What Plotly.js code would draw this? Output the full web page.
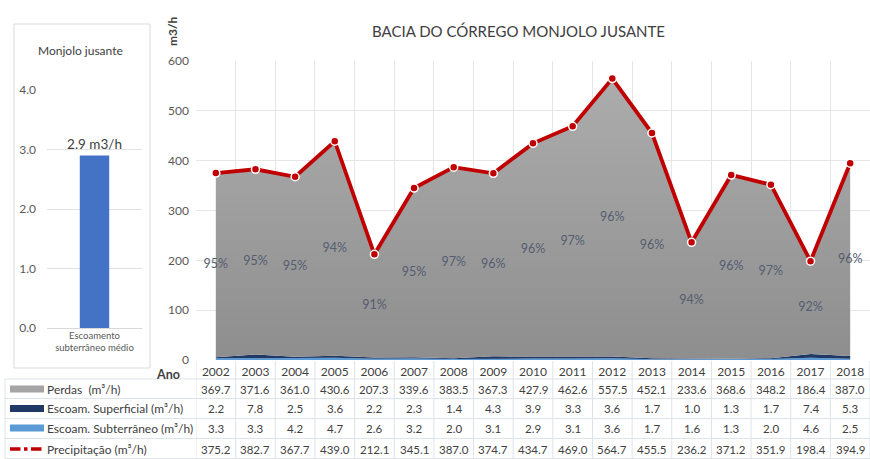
<!DOCTYPE html>
<html>
<head>
<meta charset="utf-8">
<script src="https://cdn.plot.ly/plotly-3.0.1.min.js"></script>
<style>
  body { margin: 0; background: #fff; }
  #grafico { width: 870px; height: 459px; }
</style>
</head>
<body>
<div id="grafico"></div>
<script>
const anos = ['2002', '2003', '2004', '2005', '2006', '2007', '2008', '2009', '2010',
  '2011', '2012', '2013', '2014', '2015', '2016', '2017', '2018'];
const perdas = [369.7, 371.6, 361.0, 430.6, 207.3, 339.6, 383.5, 367.3, 427.9,
  462.6, 557.5, 452.1, 233.6, 368.6, 348.2, 186.4, 387.0];
const superficial = [2.2, 7.8, 2.5, 3.6, 2.2, 2.3, 1.4, 4.3, 3.9, 3.3, 3.6, 1.7, 1.0, 1.3, 1.7, 7.4, 5.3];
const subterraneo = [3.3, 3.3, 4.2, 4.7, 2.6, 3.2, 2.0, 3.1, 2.9, 3.1, 3.6, 1.7, 1.6, 1.3, 2.0, 4.6, 2.5];
const precipitacao = [375.2, 382.7, 367.7, 439.0, 212.1, 345.1, 387.0, 374.7, 434.7,
  469.0, 564.7, 455.5, 236.2, 371.2, 351.9, 198.4, 394.9];
const percentuais = ['95%', '95%', '95%', '94%', '91%', '95%', '97%', '96%', '96%',
  '97%', '96%', '96%', '94%', '96%', '97%', '92%', '96%'];

const mediaCategoria = ['Escoamento<br>subterrâneo médio'];
const mediaValor = [2.9];
const mediaTexto = ['2.9 m3/h'];

const W = 870, H = 459;
const px = x => x / W;
const py = y => 1 - y / H;

const fonte = 'Lato, "Liberation Sans", sans-serif';
const cinzaTexto = '#404040';

// posição dos rótulos de % no meio da área de perdas
const meioPerdas = perdas.map((p, i) => subterraneo[i] + superficial[i] + p / 2);

const traces = [
  {
    x: anos, y: subterraneo, type: 'scatter', mode: 'lines', stackgroup: 'a',
    line: { width: 0, color: '#5b9bd5' }, fillcolor: '#5b9bd5',
    xaxis: 'x', yaxis: 'y', hoverinfo: 'skip'
  },
  {
    x: anos, y: superficial, type: 'scatter', mode: 'lines', stackgroup: 'a',
    line: { width: 0, color: '#203864' }, fillcolor: '#203864',
    xaxis: 'x', yaxis: 'y', hoverinfo: 'skip'
  },
  {
    x: anos, y: perdas, type: 'scatter', mode: 'lines', stackgroup: 'a',
    line: { width: 0, color: '#a0a0a0' },
    fillgradient: { type: 'vertical', start: 0, stop: 560, colorscale: [[0, '#8e8e8e'], [1, '#acacac']] },
    xaxis: 'x', yaxis: 'y', hoverinfo: 'skip'
  },
  {
    x: anos, y: precipitacao, type: 'scatter', mode: 'lines+markers',
    line: { color: '#c00000', width: 3.8 },
    marker: { color: '#c00000', size: 8, line: { color: '#ffffff', width: 1.5 } },
    xaxis: 'x', yaxis: 'y', hoverinfo: 'skip'
  },
  {
    x: anos, y: meioPerdas, type: 'scatter', mode: 'text', text: percentuais,
    textfont: { family: fonte, size: 12.5, color: '#555d70' },
    xaxis: 'x', yaxis: 'y', hoverinfo: 'skip'
  },
  {
    x: mediaCategoria, y: mediaValor, type: 'bar', width: 0.31,
    marker: { color: '#4472c4' },
    text: mediaTexto, textposition: 'outside', cliponaxis: false, constraintext: 'none',
    textfont: { family: fonte, size: 13.5, color: cinzaTexto },
    xaxis: 'x2', yaxis: 'y2', hoverinfo: 'skip'
  }
];

const anot = (text, x, y, size, extra) => Object.assign({
  text: text, xref: 'paper', yref: 'paper', x: px(x), y: py(y),
  xanchor: 'center', yanchor: 'middle', showarrow: false,
  font: { family: fonte, size: size, color: cinzaTexto }
}, extra || {});

const annotations = [
  anot('BACIA DO CÓRREGO MONJOLO JUSANTE', 518, 31, 15),
  anot('<b>m3/h</b>', 172, 31, 12, { textangle: -90 }),
  anot('<b>Ano</b>', 168, 374, 12.5),
  anot('Monjolo jusante', 80, 50, 12)
];

const shapes = [
  // moldura do painel esquerdo
  {
    type: 'rect', xref: 'paper', yref: 'paper',
    x0: px(14), x1: px(150), y0: py(368), y1: py(24),
    line: { color: '#d9d9d9', width: 1 }
  }
];

// tabela de dados
const linhas = [
  { nome: 'Perdas  (m³/h)', valores: perdas, cy: 389, cor: '#a5a5a5', tipo: 'barra' },
  { nome: 'Escoam. Superficial (m³/h)', valores: superficial, cy: 408.5, cor: '#203864', tipo: 'barra' },
  { nome: 'Escoam. Subterrâneo (m³/h)', valores: subterraneo, cy: 428, cor: '#5b9bd5', tipo: 'barra' },
  { nome: 'Precipitação (m³/h)', valores: precipitacao, cy: 449, cor: '#c00000', tipo: 'linha' }
];
const corGrade = '#dde3ea';

linhas.forEach(l => {
  annotations.push(anot(l.nome, 45, l.cy, 12, { xanchor: 'left' }));
  l.valores.forEach((v, i) => {
    annotations.push({
      text: v.toFixed(1), xref: 'x', yref: 'paper', x: i, y: py(l.cy),
      xanchor: 'center', yanchor: 'middle', showarrow: false,
      font: { family: fonte, size: 11.5, color: cinzaTexto }
    });
  });
  if (l.tipo === 'barra') {
    shapes.push({
      type: 'rect', xref: 'paper', yref: 'paper',
      x0: px(10), x1: px(44), y0: py(l.cy + 3.5), y1: py(l.cy - 3.5),
      fillcolor: l.cor, line: { width: 0 }
    });
  } else {
    shapes.push({
      type: 'line', xref: 'paper', yref: 'paper',
      x0: px(10), x1: px(44), y0: py(l.cy), y1: py(l.cy),
      line: { color: l.cor, width: 3.5, dash: 'dashdot' }
    });
  }
});

[379, 398.5, 418.5, 438.5, 458.5].forEach(y => {
  shapes.push({
    type: 'line', xref: 'paper', yref: 'paper', x0: px(5), x1: 1, y0: py(y), y1: py(y),
    line: { color: corGrade, width: 1 }
  });
});
shapes.push({
  type: 'line', xref: 'paper', yref: 'paper', x0: px(5), x1: px(5), y0: py(379), y1: py(459),
  line: { color: corGrade, width: 1 }
});
for (let i = 0; i <= anos.length; i++) {
  shapes.push({
    type: 'line', xref: 'x', yref: 'paper', x0: i - 0.5, x1: i - 0.5, y0: py(361), y1: py(459),
    line: { color: corGrade, width: 1 }
  });
}

const layout = {
  width: W, height: H,
  margin: { l: 0, r: 0, t: 0, b: 0 },
  paper_bgcolor: '#ffffff', plot_bgcolor: '#ffffff',
  showlegend: false,
  font: { family: fonte, color: cinzaTexto },
  xaxis: {
    domain: [px(196), 1], type: 'category', range: [-0.5, 16.5],
    tickson: 'boundaries', showgrid: true, gridcolor: '#e6e6e6',
    ticks: '', showline: false, zeroline: false, ticklabelstandoff: 3,
    tickfont: { family: fonte, size: 12, color: cinzaTexto }
  },
  yaxis: {
    domain: [py(360), py(61)], range: [0, 600], dtick: 100,
    showgrid: true, gridcolor: '#e6e6e6', zeroline: false, ticks: '',
    ticklabelstandoff: 6,
    tickfont: { family: fonte, size: 12, color: '#595959' }
  },
  xaxis2: {
    domain: [px(47), px(142)], anchor: 'y2', type: 'category',
    showgrid: false, ticks: '', showline: false,
    tickfont: { family: fonte, size: 9.5, color: '#595959' }
  },
  yaxis2: {
    domain: [py(328), py(90)], anchor: 'x2', range: [0, 4.0], dtick: 1,
    tickformat: '.1f', showgrid: true, gridcolor: '#e2e2e2', zeroline: true,
    zerolinecolor: '#d9d9d9', ticks: '', ticklabelstandoff: 10,
    tickfont: { family: fonte, size: 12, color: '#595959' }
  },
  annotations: annotations,
  shapes: shapes
};

Plotly.newPlot('grafico', traces, layout, { displayModeBar: false, staticPlot: true });
</script>
</body>
</html>
